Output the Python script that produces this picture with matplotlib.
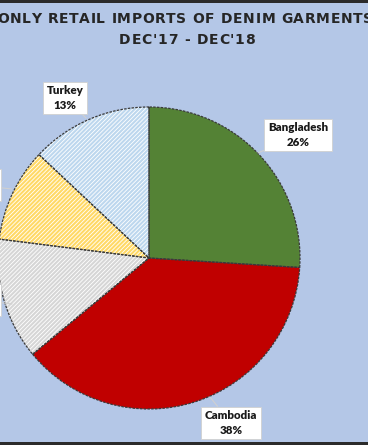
import matplotlib
matplotlib.use("Agg")
import matplotlib.pyplot as plt
from matplotlib.patches import Rectangle
from matplotlib import font_manager, ft2font
from matplotlib.font_manager import FontProperties

title_line1 = "ONLY RETAIL IMPORTS OF DENIM GARMENTS"
title_line2 = "DEC'17 - DEC'18"
countries = ["Bangladesh", "Cambodia", "Mexico", "Pakistan", "Turkey"]
shares = [26, 38, 13, 10, 13]
face_colors = ["#548235", "#C00000", "#D6D6D6", "#FFD966", "#BDD7EE"]
hatches = [None, None, "////////", "////////", "////////"]

plt.rcParams["hatch.linewidth"] = 0.6

W, H = 368, 445
DPI = 100
fig = plt.figure(figsize=(W / DPI, H / DPI), dpi=DPI)
fig.patch.set_facecolor("#B4C7E7")

# dark strips at top/bottom
fig.add_artist(Rectangle((0, 1 - 3 / H), 1, 3 / H, transform=fig.transFigure,
                         facecolor="#2B2B2B", edgecolor="none"))
fig.add_artist(Rectangle((0, 0), 1, 3 / H, transform=fig.transFigure,
                         facecolor="#2B2B2B", edgecolor="none"))

cx, cy, r = 149, 258, 151
ax = fig.add_axes([(cx - r) / W, (H - cy - r) / H, 2 * r / W, 2 * r / H])
ax.set_facecolor("none")

wedges, _ = ax.pie(shares, startangle=90, counterclock=False, radius=1,
                   colors=face_colors, wedgeprops=dict(linewidth=0))
for w, h in zip(wedges, hatches):
    if h:
        w.set_hatch(h)
        w.set_edgecolor("#FFFFFF")
        w.set_linewidth(0)
outline, _ = ax.pie(shares, startangle=90, counterclock=False, radius=1,
                    colors=["none"] * len(shares),
                    wedgeprops=dict(linewidth=0.9, edgecolor="#3A3A3A",
                                    linestyle=(0, (2, 1)), fill=False))
ax.set_xlim(-1, 1)
ax.set_ylim(-1, 1)
ax.axis("off")

def px(x, y):
    return ((x - cx) / r, (cy - y) / r)

label_font = dict(family=["Lato", "DejaVu Sans"], weight="heavy", fontsize=8.3,
                  color="#1A1A1A", linespacing=1.45)
box = dict(boxstyle="square,pad=0.3", facecolor="white", edgecolor="#D0D0D0",
           linewidth=0.6)

labels = [
    (0, (298, 135), (258, 153)),
    (1, (231, 423), (210, 397)),
    (4, (65, 98), (86, 118)),
]
for i, (tx, ty), (lx, ly) in labels:
    txt = f"{countries[i]}\n{shares[i]}%"
    ax.annotate(txt, xy=px(lx, ly), xytext=px(tx, ty), ha="center", va="center",
                bbox=box, annotation_clip=False,
                arrowprops=dict(arrowstyle="-", color="#D0D0D0", lw=0.8,
                                shrinkA=0, shrinkB=0),
                **label_font)

# labels largely outside the visible area (cut off on the left)
for i, (tx, ty) in [(3, (-2, 185)), (2, (-2, 300))]:
    txt = f"{countries[i]}\n{shares[i]}%"
    ax.annotate(txt, xy=px(12, ty + 4), xytext=px(tx, ty), ha="right", va="center",
                bbox=box, annotation_clip=False,
                arrowprops=dict(arrowstyle="-", color="#D0D0D0", lw=0.8,
                                shrinkA=0, shrinkB=0),
                **label_font)

# title with letter spacing (tracking)
tfs = 10
tprops = FontProperties(family="DejaVu Sans", weight="bold", size=tfs)
tfont = ft2font.FT2Font(font_manager.findfont(tprops))
tfont.set_size(tfs, DPI)

def tracked_text(s, center_x, baseline_y, tracking):
    advs = [tfont.load_char(ord(c)).linearHoriAdvance / 65536 for c in s]
    total = sum(advs) + tracking * (len(s) - 1)
    x = center_x - total / 2
    for c, a in zip(s, advs):
        if c != " ":
            fig.text((x + a / 2) / W, 1 - baseline_y / H, c, fontproperties=tprops,
                     color="#262626", ha="center", va="baseline")
        x += a + tracking

tracked_text(title_line1, 185, 23, 0.68)
tracked_text(title_line2, 187, 44, 0.8)

fig.savefig("out.png", dpi=DPI, facecolor=fig.get_facecolor())
